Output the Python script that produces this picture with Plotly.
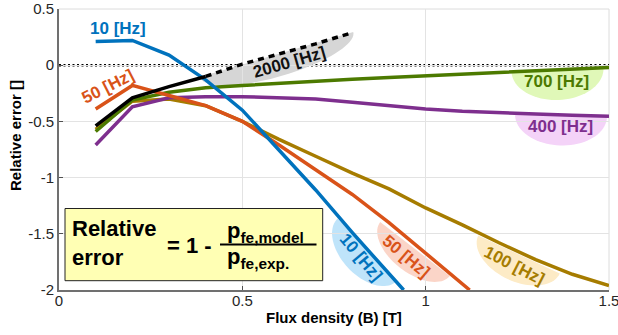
import math
import plotly.graph_objects as go

# ---------------- data ----------------
x_10 = [0.1, 0.2, 0.3, 0.4, 0.5, 0.6, 0.7, 0.8, 0.9, 0.94]
y_10 = [0.21, 0.22, 0.09, -0.13, -0.40, -0.75, -1.11, -1.49, -1.85, -2.0]

x_50 = [0.1, 0.2, 0.3, 0.4, 0.5, 0.6, 0.7, 0.8, 0.9, 1.0, 1.1, 1.12]
y_50 = [-0.39, -0.18, -0.27, -0.36, -0.50, -0.71, -0.93, -1.15, -1.40, -1.67, -1.94, -2.0]

x_full = [0.1, 0.2, 0.3, 0.4, 0.5, 0.6, 0.7, 0.8, 0.9, 1.0, 1.1, 1.2, 1.3, 1.4, 1.5]
y_100 = [-0.57, -0.32, -0.30, -0.36, -0.50, -0.66, -0.81, -0.96, -1.10, -1.27, -1.42, -1.58, -1.73, -1.86, -1.96]
y_700 = [-0.59, -0.31, -0.24, -0.20, -0.18, -0.16, -0.14, -0.125, -0.11, -0.095, -0.08, -0.065, -0.05, -0.035, -0.02]
y_400 = [-0.71, -0.37, -0.29, -0.28, -0.28, -0.29, -0.30, -0.33, -0.36, -0.39, -0.41, -0.425, -0.435, -0.445, -0.455]

x_2000_meas = [0.1, 0.2, 0.3, 0.4]
y_2000_meas = [-0.54, -0.29, -0.19, -0.10]
x_2000_ext = [0.4, 0.5, 0.6, 0.7, 0.8]
y_2000_ext = [-0.10, 0.01, 0.10, 0.19, 0.29]

x_ticks = [0, 0.5, 1, 1.5]
x_ticklabels = ["0", "0.5", "1", "1.5"]
y_ticks = [-2, -1.5, -1, -0.5, 0, 0.5]
y_ticklabels = ["-2", "-1.5", "-1", "-0.5", "0", "0.5"]
x_range = [0, 1.5]
y_range = [-2, 0.5]

# ---------------- styling ----------------
W, H = 618, 335
ML, MR, MT, MB = 59, 9, 9, 45
FONT = "Liberation Sans, Arial, Helvetica, sans-serif"

C10 = "#0072BD"
C50 = "#D95319"
C100 = "#A67C00"
C700 = "#4C7A00"
C400 = "#7E2F8E"
C2000 = "#000000"

L, R, T, B = ML, W - MR, MT, H - MB


def p2d(px, py):
    x = x_range[0] + (px - L) / (R - L) * (x_range[1] - x_range[0])
    y = y_range[1] - (py - T) / (B - T) * (y_range[1] - y_range[0])
    return x, y


def half_ellipse(cx, cy, a, b, ang, n=40):
    th = math.radians(ang)
    ux, uy = math.cos(th), math.sin(th)
    nx, ny = -math.sin(th), math.cos(th)
    pts = []
    for i in range(n + 1):
        t = math.pi * i / n
        px = cx + a * math.cos(t) * ux + b * math.sin(t) * nx
        py = cy + a * math.cos(t) * uy + b * math.sin(t) * ny
        pts.append(p2d(px, py))
    path = "M " + " L ".join(f"{x:.5f},{y:.5f}" for x, y in pts) + " Z"
    return path


fig = go.Figure()

blobs = [
    (276.5, 54.5, 80, 22, -16.4, "#D6D6D6"),
    (557.5, 70, 46, 30, -2.3, "#E0F8B8"),
    (561, 115.5, 46, 30, 2.0, "#F4D3F8"),
    (367, 250, 43, 26, 47, "#BFE4FA"),
    (415, 249, 44, 24, 37.7, "#FBD5C8"),
    (519, 254.5, 45, 27, 25, "#FDEBC6"),
]
shapes = []
for cx, cy, a, b, ang, col in blobs:
    shapes.append(dict(type="path", path=half_ellipse(cx, cy, a, b, ang),
                       fillcolor=col, line=dict(width=0), layer="below",
                       xref="x", yref="y"))

# top / right light frame
shapes.append(dict(type="line", xref="paper", yref="paper", x0=0, x1=1, y0=1, y1=1,
                   line=dict(color="#DCDCDC", width=1), layer="below"))
shapes.append(dict(type="line", xref="paper", yref="paper", x0=1, x1=1, y0=0, y1=1,
                   line=dict(color="#DCDCDC", width=1), layer="below"))

# zero reference line (dotted)
shapes.append(dict(type="line", xref="paper", yref="y", x0=0, x1=1, y0=0, y1=0,
                   line=dict(color="black", width=2.5, dash="2px,2.5px"), layer="between"))

# formula box
bx0, by0 = p2d(65, 208.5)
bx1, by1 = p2d(322.7, 280.7)
shapes.append(dict(type="rect", xref="x", yref="y", x0=bx0, x1=bx1, y0=by0, y1=by1,
                   fillcolor="#FFFFB4", line=dict(color="#222222", width=1), layer="above"))
fx0, fy = p2d(220, 244.5)
fx1, _ = p2d(316.5, 244.5)
shapes.append(dict(type="line", xref="x", yref="y", x0=fx0, x1=fx1, y0=fy, y1=fy,
                   line=dict(color="black", width=2), layer="above"))

series = [
    (x_full, y_100, C100, "100 [Hz]"),
    (x_full, y_400, C400, "400 [Hz]"),
    (x_full, y_700, C700, "700 [Hz]"),
    (x_50, y_50, C50, "50 [Hz]"),
    (x_10, y_10, C10, "10 [Hz]"),
]
for xs, ys, col, name in series:
    fig.add_trace(go.Scatter(x=xs, y=ys, mode="lines", name=name,
                             line=dict(color=col, width=3.5)))
fig.add_trace(go.Scatter(x=x_2000_ext, y=y_2000_ext, mode="lines", name="2000 [Hz] ext",
                         line=dict(color=C2000, width=3.5, dash="6px,5px")))
fig.add_trace(go.Scatter(x=x_2000_meas, y=y_2000_meas, mode="lines", name="2000 [Hz]",
                         line=dict(color=C2000, width=3.5)))

annotations = []


def label(text, px, py, color, angle=0, size=17):
    x, y = p2d(px, py)
    annotations.append(dict(x=x, y=y, xref="x", yref="y", text=f"<b>{text}</b>",
                            showarrow=False, textangle=angle,
                            font=dict(family=FONT, size=size, color=color),
                            xanchor="center", yanchor="middle"))


label("10 [Hz]", 117.7, 28.3, C10)
label("50 [Hz]", 108, 86.5, C50, -27)
label("2000 [Hz]", 289, 62.5, "#111111", -16)
label("700 [Hz]", 556, 81.7, C700)
label("400 [Hz]", 560, 126.7, C400)
label("10 [Hz]", 361, 257.5, C10, 50)
label("50 [Hz]", 406, 256.7, C50, 40)
label("100 [Hz]", 514, 265, C100, 27)

# formula text
def ftext(text, px, py, size, xanchor="left"):
    x, y = p2d(px, py)
    annotations.append(dict(x=x, y=y, xref="x", yref="y", text=text, showarrow=False,
                            font=dict(family=FONT, size=size, color="black"),
                            xanchor=xanchor, yanchor="middle", align="left"))


ftext("<b>Relative<br>error</b>", 70, 243, 22)
ftext("<b>= 1 -</b>", 165, 245, 22)
ftext("<b>p<sub>fe,model</sub></b>", 225, 232, 22)
ftext("<b>p<sub>fe,exp.</sub></b>", 225, 258, 22)

# axis titles
annotations.append(dict(x=(15 - L) / (R - L), y=(B - 136) / (B - T), xref="paper", yref="paper",
                        text="<b>Relative error []</b>", textangle=-90, showarrow=False,
                        font=dict(family=FONT, size=15, color="black"),
                        xanchor="center", yanchor="middle"))
annotations.append(dict(x=0.5, y=(B - 317) / (B - T), xref="paper", yref="paper",
                        text="<b>Flux density (B) [T]</b>", showarrow=False,
                        font=dict(family=FONT, size=15, color="black"),
                        xanchor="center", yanchor="middle"))

fig.update_layout(
    width=W, height=H, autosize=False,
    margin=dict(l=ML, r=MR, t=MT, b=MB, pad=0, autoexpand=False),
    plot_bgcolor="white", paper_bgcolor="white",
    showlegend=False,
    shapes=shapes, annotations=annotations,
    font=dict(family=FONT, size=15, color="#262626"),
)
fig.update_xaxes(range=x_range, tickvals=x_ticks, ticktext=x_ticklabels,
                 showgrid=True, gridcolor="#E3E3E3", gridwidth=1,
                 showline=True, linecolor="#707070", linewidth=2,
                 ticks="inside", ticklen=4, tickcolor="#505050", tickwidth=1,
                 zeroline=False, fixedrange=True, automargin=False,
                 ticklabeloverflow="allow", ticklabelstandoff=-4,
                 tickfont=dict(family=FONT, size=15, color="#262626"))
fig.update_yaxes(range=y_range, tickvals=y_ticks, ticktext=y_ticklabels,
                 showgrid=True, gridcolor="#E3E3E3", gridwidth=1,
                 showline=True, linecolor="#707070", linewidth=2,
                 ticks="inside", ticklen=4, tickcolor="#505050", tickwidth=1,
                 zeroline=False, fixedrange=True, automargin=False,
                 ticklabeloverflow="allow",
                 tickfont=dict(family=FONT, size=15, color="#262626"))

fig.write_html("out.html", config={"displayModeBar": False},
               post_script="document.body.style.margin='0';document.body.style.overflow='hidden';")
